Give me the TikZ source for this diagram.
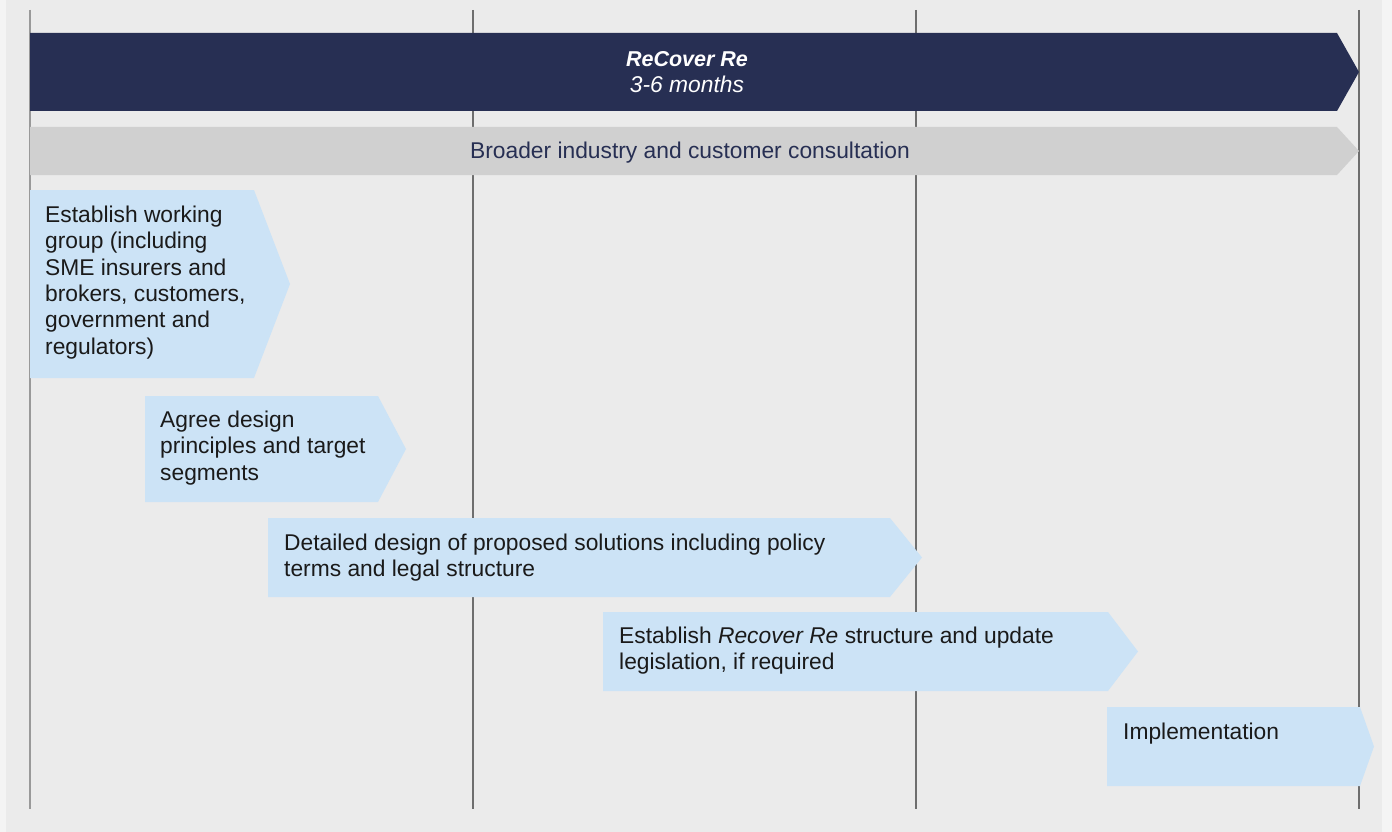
\documentclass[tikz,border=0pt]{standalone}
\usepackage{fontspec}
\setmainfont{Liberation Sans}
\definecolor{outerbg}{HTML}{F4F4F4}
\definecolor{panelbg}{HTML}{EBEBEB}
\definecolor{navy}{HTML}{272F53}
\definecolor{consult}{HTML}{D0D0D0}
\definecolor{phase}{HTML}{CCE3F6}
\definecolor{rulegrey}{HTML}{6E6E6E}
\definecolor{ink}{HTML}{1A1A1A}
% chevron: fill style, left x, body end x, tip x, top y, bottom y
\newcommand\chevronbar[6]{%
  \fill[#1] (#2,#5) -- (#3,#5) -- (#4,{(#5+#6)/2}) -- (#3,#6) -- (#2,#6) -- cycle;}
\begin{document}
\begin{tikzpicture}[x=1pt,y=-1pt,
  gridline/.style={draw=rulegrey,line width=1.2pt},
  firstline/.style={draw=rulegrey!70,line width=1.8pt},
  steptext/.style={anchor=north west,inner sep=0pt,align=left,text=ink,
    font=\fontsize{22.8}{26.4}\selectfont},
  titletext/.style={anchor=base,inner sep=0pt,text=white,
    font=\fontsize{22.8}{26}\selectfont\itshape}]
\useasboundingbox (0,0) rectangle (1392,832);
\fill[outerbg] (0,0) rectangle (1392,832);
\fill[panelbg] (6,0) rectangle (1382,832);

% time grid
\coordinate (g0t) at (30,10);   \coordinate (g0b) at (30,809);
\coordinate (g1t) at (473,10);  \coordinate (g1b) at (473,809);
\coordinate (g2t) at (916,10);  \coordinate (g2b) at (916,809);
\coordinate (g3t) at (1359,10); \coordinate (g3b) at (1359,809);
\draw[firstline] (g0t) -- (g0b);
\draw[gridline] (g1t) -- (g1b);
\draw[gridline] (g2t) -- (g2b);
\draw[gridline] (g3t) -- (g3b);

% programme bar and consultation bar
\chevronbar{navy}{30}{1337}{1359}{33}{111}
\node[titletext,font=\fontsize{21.5}{26}\selectfont\bfseries\itshape] (title) at (687,67) {ReCover Re};
\node[titletext] (duration) at (687,93) {3-6 months};
\chevronbar{consult}{30}{1337}{1359}{127}{175}
\node[anchor=base,inner sep=0pt,text=navy,font=\fontsize{22.8}{26}\selectfont] (consultation) at (690,159) {Broader industry and customer consultation};

% phases
\chevronbar{phase}{30}{254}{290}{190}{378}
\node[steptext] (wg) at (45,{222-18.48}) {\strut Establish working\\group (including\\SME insurers and\\brokers, customers,\\government and\\regulators)};

\chevronbar{phase}{145}{378}{406}{396}{502}
\node[steptext] (principles) at (160,{427-18.48}) {\strut Agree design\\principles and target\\segments};

\chevronbar{phase}{268}{890}{922}{518}{597}
\node[steptext] (design) at (284,{550-18.48}) {\strut Detailed design of proposed solutions including policy\\terms and legal structure};

\chevronbar{phase}{603}{1108}{1138}{612}{691}
\node[steptext] (structure) at (619,{643-18.48}) {\strut Establish \textit{Recover Re} structure and update\\legislation, if required};

\chevronbar{phase}{1107}{1360}{1374}{707}{786}
\node[steptext] (impl) at (1123,{739-18.48}) {\strut Implementation};
\end{tikzpicture}
\end{document}
